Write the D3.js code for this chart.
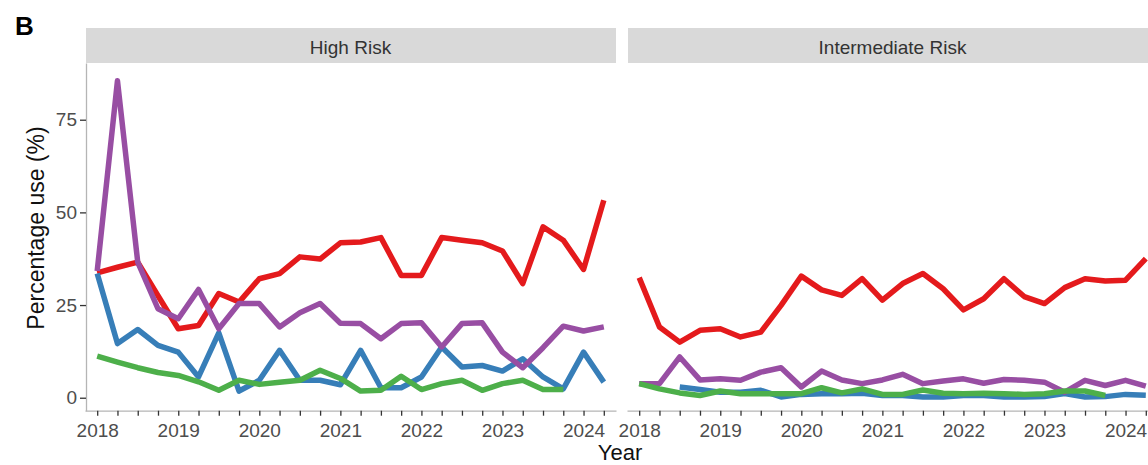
<!DOCTYPE html>
<html>
<head>
<meta charset="utf-8">
<script src="https://cdn.jsdelivr.net/npm/d3@7"></script>
<style>
  html, body { margin: 0; padding: 0; background: #ffffff; }
  svg { display: block; font-family: "Liberation Sans", Arial, Helvetica, sans-serif; }
</style>
</head>
<body>
<svg id="chart" width="1148" height="465"></svg>
<script>
// ---------- data ----------
const panels = ["High Risk", "Intermediate Risk"];
const quarters = [2018.00, 2018.25, 2018.50, 2018.75, 2019.00, 2019.25, 2019.50, 2019.75,
                  2020.00, 2020.25, 2020.50, 2020.75, 2021.00, 2021.25, 2021.50, 2021.75,
                  2022.00, 2022.25, 2022.50, 2022.75, 2023.00, 2023.25, 2023.50, 2023.75,
                  2024.00, 2024.25];
const yearTicks = [2018, 2019, 2020, 2021, 2022, 2023, 2024];
const yTicks = [0, 25, 50, 75];
const seriesNames = ["red", "blue", "purple", "green"];

const highRed    = [33.7, 35.2, 36.6, 27.5, 18.6, 19.5, 28.1, 25.8, 32.1, 33.5, 38.0, 37.4, 41.8, 42.0, 43.2, 33.0, 33.0, 43.2, 42.5, 41.8, 39.6, 30.8, 46.1, 42.5, 34.6, 53.3];
const highPurple = [34.2, 85.5, 36.6, 24.0, 21.3, 29.2, 18.6, 25.4, 25.4, 19.1, 22.9, 25.4, 20.1, 20.0, 15.9, 20.0, 20.2, 13.7, 20.0, 20.2, 12.3, 8.1, 13.5, 19.3, 18.0, 19.1];
const highBlue   = [33.5, 14.6, 18.4, 14.1, 12.3, 5.6, 17.5, 1.8, 4.7, 12.8, 4.7, 4.7, 3.5, 12.8, 2.7, 2.7, 5.6, 13.7, 8.3, 8.7, 7.2, 10.5, 5.6, 2.4, 12.3, 4.2];
const highGreen  = [11.2, 9.6, 8.1, 6.8, 6.0, 4.3, 2.0, 4.7, 3.6, 4.2, 4.7, 7.4, 5.2, 1.8, 2.0, 5.8, 2.2, 3.8, 4.7, 2.0, 3.8, 4.7, 2.2, 2.2, null, null];

const interRed    = [32.4, 19.1, 15.0, 18.2, 18.6, 16.4, 17.7, 24.9, 32.8, 29.1, 27.6, 32.1, 26.3, 30.8, 33.5, 29.4, 23.7, 26.7, 32.1, 27.3, 25.4, 29.7, 32.1, 31.5, 31.7, 37.5];
const interPurple = [3.8, 3.8, 11.0, 4.8, 5.1, 4.7, 6.9, 8.1, 2.9, 7.2, 4.8, 3.8, 4.8, 6.3, 3.8, 4.5, 5.1, 3.9, 4.9, 4.7, 4.2, 1.5, 4.7, 3.3, 4.7, 3.1];
const interBlue   = [null, null, 2.9, 2.2, 1.5, 1.5, 2.0, 0.2, 0.9, 1.1, 1.1, 1.2, 0.6, 0.6, 0.2, 0.2, 0.6, 0.6, 0.2, 0.2, 0.35, 1.1, 0.2, 0.3, 0.9, 0.7];
const interGreen  = [3.8, 2.4, 1.3, 0.6, 1.8, 1.1, 1.1, 1.1, 1.1, 2.7, 1.3, 2.4, 0.9, 0.9, 2.1, 1.2, 1.1, 1.2, 1.1, 0.9, 1.1, 1.8, 1.8, 0.6, null, null];

const panelData = [
  { red: highRed,  blue: highBlue,  purple: highPurple,  green: highGreen },
  { red: interRed, blue: interBlue, purple: interPurple, green: interGreen }
];
const colors = { red: "#E41A1C", blue: "#377EB8", purple: "#984EA3", green: "#4DAF4A" };

// ---------- layout ----------
const svg = d3.select("#chart");
svg.append("rect").attr("width", 1148).attr("height", 465).attr("fill", "#ffffff");

const panelLeft = [85, 627];
const panelW = 531;
const panelTop = 63;
const panelBottom = 410.7;
const stripTop = 28;

const y = d3.scaleLinear().domain([-3.5, 90.3]).range([panelBottom, panelTop]);

const tickColor = "#333333";
const labelColor = "#4D4D4D";

panels.forEach((name, p) => {
  const x0 = panelLeft[p];
  const x = d3.scaleLinear()
    .domain([2018 - 12.2 / 81.04, 2024.25 + 12.2 / 81.04])
    .range([x0, x0 + panelW]);

  const g = svg.append("g");

  // strip
  g.append("rect")
    .attr("x", x0 + 1).attr("y", stripTop)
    .attr("width", panelW - 1).attr("height", panelTop - stripTop)
    .attr("fill", "#D9D9D9");
  g.append("text")
    .attr("x", x0 + panelW / 2).attr("y", 53.5)
    .attr("text-anchor", "middle")
    .attr("font-size", 19)
    .attr("fill", "#333333")
    .text(name);

  // x axis
  const xAxis = d3.axisBottom(x)
    .tickValues(quarters)
    .tickFormat(d => yearTicks.includes(d) ? String(d) : "")
    .tickSize(5)
    .tickSizeOuter(0)
    .tickPadding(8);
  const xg = g.append("g").attr("transform", `translate(0,${panelBottom})`).call(xAxis);
  xg.select(".domain").attr("stroke", "#B5B5B5").attr("stroke-width", 1.3);
  xg.selectAll(".tick line").attr("stroke", tickColor).attr("stroke-width", 1.3);
  xg.selectAll(".tick text")
    .attr("font-size", 19)
    .attr("fill", labelColor)
    .attr("font-family", "'Liberation Sans', Arial, Helvetica, sans-serif");

  // y axis on first panel only
  if (p === 0) {
    const yAxis = d3.axisLeft(y).tickValues(yTicks).tickSize(6).tickSizeOuter(0).tickPadding(3);
    const yg = g.append("g").attr("transform", `translate(${x0 + 1},0)`).call(yAxis);
    yg.select(".domain").attr("stroke", "#B5B5B5").attr("stroke-width", 1.3);
    yg.selectAll(".tick line").attr("stroke", tickColor).attr("stroke-width", 1.3);
    yg.selectAll(".tick text")
      .attr("font-size", 19)
      .attr("fill", labelColor)
      .attr("font-family", "'Liberation Sans', Arial, Helvetica, sans-serif");
  }

  // lines
  const line = d3.line()
    .defined(d => d.v != null)
    .x(d => x(d.t))
    .y(d => y(d.v));

  seriesNames.forEach(s => {
    const pts = quarters.map((t, i) => ({ t, v: panelData[p][s][i] }));
    g.append("path")
      .datum(pts)
      .attr("d", line)
      .attr("fill", "none")
      .attr("stroke", colors[s])
      .attr("stroke-width", 5.5)
      .attr("stroke-linejoin", "round")
      .attr("stroke-linecap", "butt");
  });
});

// titles
svg.append("text")
  .attr("transform", `translate(44,228) rotate(-90)`)
  .attr("text-anchor", "middle")
  .attr("font-size", 23)
  .attr("fill", "#111111")
  .text("Percentage use (%)");

svg.append("text")
  .attr("x", 620).attr("y", 460)
  .attr("text-anchor", "middle")
  .attr("font-size", 22)
  .attr("fill", "#111111")
  .text("Year");

svg.append("text")
  .attr("x", 15).attr("y", 35)
  .attr("font-size", 26)
  .attr("font-weight", "bold")
  .attr("fill", "#000000")
  .text("B");
</script>
</body>
</html>
